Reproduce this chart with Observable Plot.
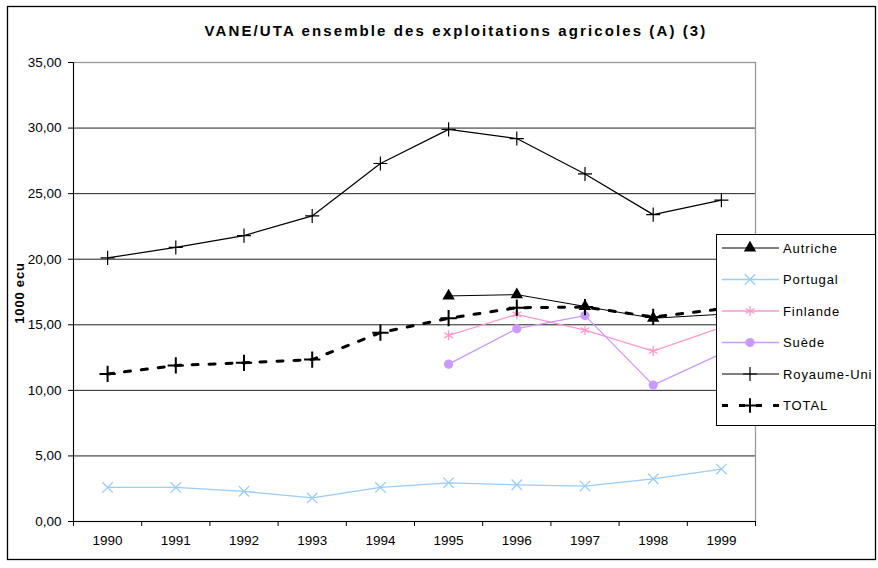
<!DOCTYPE html>
<html><head><meta charset="utf-8">
<script src="https://cdn.jsdelivr.net/npm/d3@7"></script>
<script src="https://cdn.jsdelivr.net/npm/@observablehq/plot@0.6"></script>
<style>
body{margin:0;background:#fff}
#chart{position:relative;width:878px;height:568px}
svg{font-family:"Liberation Sans",Arial,sans-serif}
</style>
</head><body><div id="chart"></div>
<script>
const title = "VANE/UTA ensemble des exploitations agricoles (A) (3)";
const yLabel = "1000 ecu";
const years = [1990, 1991, 1992, 1993, 1994, 1995, 1996, 1997, 1998, 1999];
const seriesNames = ["Autriche", "Portugal", "Finlande", "Suède", "Royaume-Uni", "TOTAL"];
const autriche   = [null, null, null, null, null, 17.2, 17.3, 16.4, 15.5, 15.8];
const portugal   = [2.6, 2.6, 2.3, 1.8, 2.6, 2.95, 2.8, 2.7, 3.25, 4.0];
const finlande   = [null, null, null, null, null, 14.2, 15.8, 14.6, 13.0, 14.8];
const suede      = [null, null, null, null, null, 12.0, 14.7, 15.7, 10.4, 12.8];
const royaumeUni = [20.1, 20.9, 21.8, 23.3, 27.3, 29.9, 29.2, 26.5, 23.4, 24.5];
const total      = [11.25, 11.9, 12.1, 12.35, 14.4, 15.5, 16.3, 16.35, 15.6, 16.2];
const yTicks = [0, 5, 10, 15, 20, 25, 30, 35];

const values = [autriche, portugal, finlande, suede, royaumeUni, total];
const styles = [
  {color: "#000000", symbol: "triangle", filled: true,  r: 4.6, sw: 1,   dash: null,   msw: 1},
  {color: "#99CCFF", symbol: "times",    filled: false, r: 4.8, sw: 1.3, dash: null,   msw: 1.3},
  {color: "#FF99CC", symbol: "asterisk", filled: false, r: 4.8, sw: 1.3, dash: null,   msw: 1.3},
  {color: "#CC99FF", symbol: "circle",   filled: true,  r: 4.6, sw: 1.3, dash: null,   msw: 1},
  {color: "#000000", symbol: "plus",     filled: false, r: 4.6, sw: 1.2, dash: null,   msw: 1.2},
  {color: "#000000", symbol: "plus",     filled: false, r: 5.3, sw: 3,   dash: "6,11", msw: 2}
];

const table = [];
seriesNames.forEach((name, i) => {
  years.forEach((yr, j) => {
    if (values[i][j] != null) table.push({series: name, idx: i, year: yr, value: values[i][j]});
  });
});

const halfTicks = d3.range(1989.5, 2000, 1);
const fmt = d => d3.format(".2f")(d).replace(".", ",");

const marks = [
  Plot.ruleY(yTicks.filter(d => d > 0 && d < 35), {stroke: "#222", strokeWidth: 1}),
  Plot.frame({stroke: "#999", strokeWidth: 1.3}),
  Plot.axisY({ticks: yTicks, tickSize: 5, tickFormat: () => "", label: null, stroke: "#000"}),
  Plot.axisX({ticks: halfTicks, tickSize: 5, tickFormat: () => "", label: null, stroke: "#000"}),
  Plot.text(yTicks, {y: d => d, frameAnchor: "left", dx: -12, textAnchor: "end", text: fmt, fontSize: 13.5, fill: "#000"}),
  Plot.text(years, {x: d => d, frameAnchor: "bottom", dy: 23, text: d => String(d), fontSize: 13.5, fill: "#000"}),
  Plot.ruleX([1989.5], {stroke: "#000", strokeWidth: 1}),
  Plot.ruleY([0], {stroke: "#000", strokeWidth: 1})
];
seriesNames.forEach((name, i) => {
  const st = styles[i];
  const d = table.filter(t => t.idx === i);
  marks.push(Plot.line(d, {x: "year", y: "value", stroke: st.color, strokeWidth: st.sw, strokeDasharray: st.dash}));
  marks.push(Plot.dot(d, {x: "year", y: "value", symbol: () => st.symbol, r: st.r,
    fill: st.filled ? st.color : "none", stroke: st.filled ? "none" : st.color, strokeWidth: st.msw}));
});

const plot = Plot.plot({
  width: 878, height: 568,
  marginLeft: 73, marginRight: 123, marginTop: 62, marginBottom: 47,
  style: {fontFamily: "'Liberation Sans', Arial, sans-serif", color: "#000", background: "#fff"},
  x: {domain: [1989.5, 1999.5], axis: null},
  y: {domain: [0, 35], axis: null},
  symbol: {type: "identity"},
  marks
});

const svg = d3.select(plot);

// outer chart border
svg.append("rect").attr("x", 7.5).attr("y", 6.5).attr("width", 868).attr("height", 553)
  .attr("fill", "none").attr("stroke", "#000").attr("stroke-width", 1.3);
// title
svg.append("text").attr("x", 456).attr("y", 36).attr("text-anchor", "middle")
  .style("font-size", "15px").attr("font-weight", "bold").attr("letter-spacing", 2.1).text(title);
// y label
svg.append("text").attr("transform", "translate(24,293) rotate(-90)").attr("text-anchor", "middle")
  .style("font-size", "13px").attr("font-weight", "bold").attr("letter-spacing", 0.8).text(yLabel);

// legend
const lg = svg.append("g");
lg.append("rect").attr("x", 716.5).attr("y", 234.5).attr("width", 159).attr("height", 191)
  .attr("fill", "#fff").attr("stroke", "#000").attr("stroke-width", 1);
const symMap = {triangle: d3.symbolTriangle, times: d3.symbolTimes, asterisk: d3.symbolAsterisk, circle: d3.symbolCircle, plus: d3.symbolPlus};
seriesNames.forEach((name, i) => {
  const st = styles[i];
  const y = 248 + i * 31.5;
  lg.append("line").attr("x1", 722).attr("x2", 779).attr("y1", y).attr("y2", y)
    .attr("stroke", st.color).attr("stroke-width", st.sw).attr("stroke-dasharray", st.dash);
  lg.append("path").attr("transform", `translate(750,${y})`)
    .attr("d", d3.symbol(symMap[st.symbol], Math.PI * Math.min(st.r, 4.8) ** 2)())
    .attr("fill", st.filled ? st.color : "none").attr("stroke", st.filled ? "none" : st.color).attr("stroke-width", st.msw);
  lg.append("text").attr("x", 783).attr("y", y + 4.5).attr("text-anchor", "start")
    .style("font-size", "13px").attr("letter-spacing", 0.9).text(name);
});

document.getElementById("chart").appendChild(plot);
</script>
</body></html>
